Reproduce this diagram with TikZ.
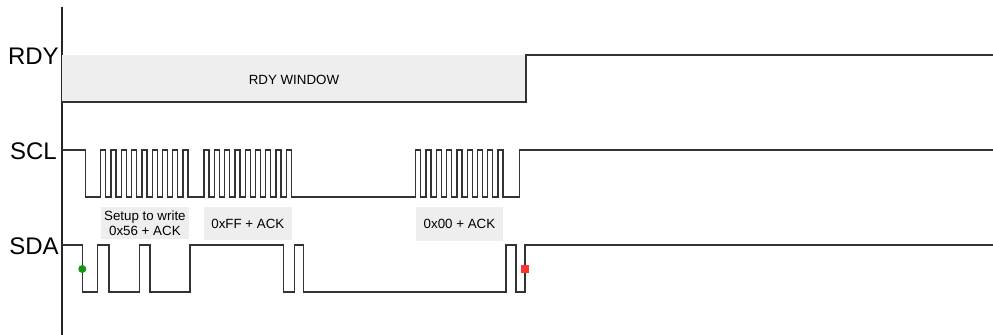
\documentclass[tikz,border=0pt]{standalone}
\usepackage{fontspec}
\setmainfont{Liberation Sans}
\usepackage{tikz}
\usetikzlibrary{calc}
\definecolor{wingray}{HTML}{EEEEEE}
\definecolor{startgreen}{HTML}{119911}
\definecolor{stopred}{HTML}{FF3333}
\tikzset{
  sig/.style={line width=1pt, color=black!80, line join=miter},
  axisline/.style={line width=0.8pt, color=black!85},
  siglabel/.style={anchor=east, inner sep=0pt, font=\fontsize{18}{21}\selectfont},
  boxtext/.style={inner sep=0pt, align=center, font=\fontsize{10}{11.5}\selectfont}
}
% one byte on SCL: 8 data clocks + ACK clock
\def\clkbyte{\foreach \k in {1,...,9}{ -- ++(0,-47) -- ++(5,0) -- ++(0,47) -- ++(5.3,0)}}

\begin{document}
\begin{tikzpicture}[x=0.75pt, y=-0.75pt]
			%%%%% START %%%%%
			\useasboundingbox (0,0) rectangle (993,335);
			
			\draw[axisline] (62,7) -- (62,335);
			
			\node[siglabel] (rdy) at (59,56) {RDY};
			\node[siglabel] (scl) at (57,151) {SCL};
			\node[siglabel] (sda) at (59,246) {SDA};
			
			%%%%% RDY %%%%%
			\fill[wingray] (62,55) rectangle (526,102);
			\node[boxtext] (win) at (294,79.5) {RDY WINDOW};
			\draw[sig] (62,102) -| (526,55) -- (993,55);
			
			%%%%% SCL %%%%%
			\draw[sig] (62,150) -| (85.7,197) -- (100.7,197) \clkbyte -- (204,197) \clkbyte
			  -- (415.7,197) \clkbyte -- (519.3,197) |- (993,150);
			
			\fill[wingray] (100.7,206.7) rectangle (189,239);
			\node[boxtext] (addr) at (144.9,223) {Setup to write\\0x56 + ACK};
			\fill[wingray] (204,206.7) rectangle (291.7,240);
			\node[boxtext] (dff) at (247.9,223.5) {0xFF + ACK};
			\fill[wingray] (415.7,206.7) rectangle (503.3,240.7);
			\node[boxtext] (d00) at (459.5,223.7) {0x00 + ACK};
			
			%%%%% SDA %%%%%
			\draw[sig] (62,245) -| (82.3,292) -| (97.7,245) -| (109,292) -| (139.3,245)
			  -| (150,292) -| (190,245) -| (283.3,292) -| (294.3,245) -| (303.3,292)
			  -| (506,245) -| (516,292) -| (525,245) -- (993,245);
			
			\fill[startgreen] (82.3,269) circle (4);
			\fill[stopred] (521,265) rectangle (529.3,273.3);
			%%%%% END %%%%%
\end{tikzpicture}
\end{document}
